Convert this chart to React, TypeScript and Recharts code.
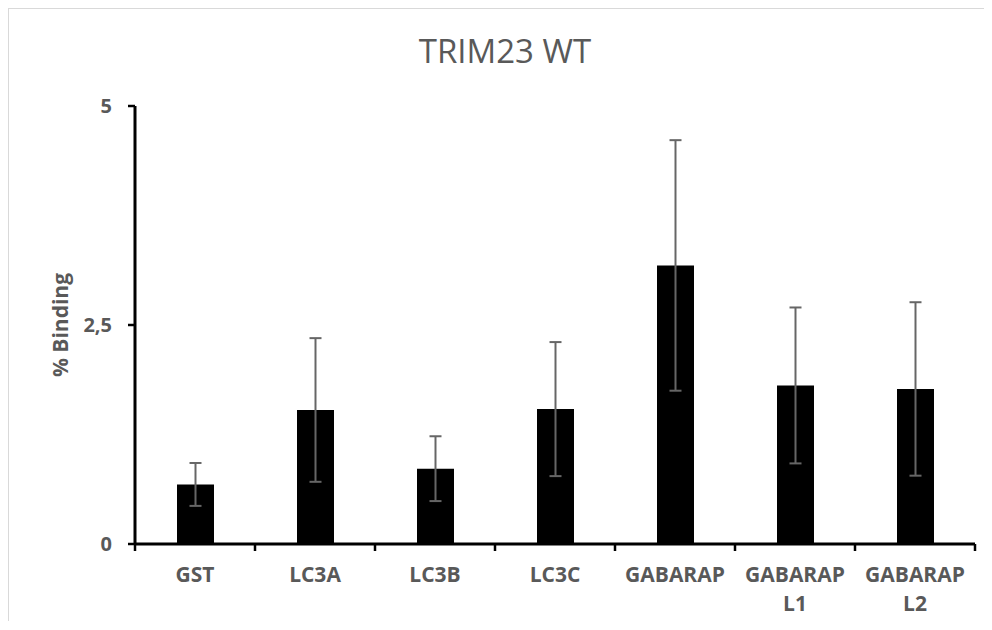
import React from 'react';
import { BarChart, Bar, XAxis, YAxis, ErrorBar, Label } from 'recharts';

const categories = ['GST', 'LC3A', 'LC3B', 'LC3C', 'GABARAP', 'GABARAP L1', 'GABARAP L2'];
const bindingValues = [0.68, 1.53, 0.86, 1.54, 3.18, 1.81, 1.77];
const bindingErrors = [0.245, 0.82, 0.37, 0.765, 1.43, 0.89, 0.99];
const yTicks = [0, 2.5, 5];
const titleText = 'TRIM23 WT';
const yLabelText = '% Binding';

const data = categories.map((name, i) => ({ name, value: bindingValues[i], err: bindingErrors[i] }));

const FONT = '"Open Sans", "Noto Sans", sans-serif';
const TEXT_COLOR = '#595959';

const XTick = (props: any) => {
  const { x, y, payload, index, visibleTicksCount, width } = props;
  const half = payload && typeof payload.offset === 'number' && payload.offset > 0
    ? payload.offset
    : width / visibleTicksCount / 2;
  const lines = String(payload.value).split(' ');
  return (
    <g>
      <line x1={x - half} y1={y} x2={x - half} y2={y + 7} stroke="#000" strokeWidth={2.5} />
      {index === visibleTicksCount - 1 && (
        <line x1={x + half} y1={y} x2={x + half} y2={y + 7} stroke="#000" strokeWidth={2.5} />
      )}
      <text
        x={x}
        y={y + 38}
        textAnchor="middle"
        fill={TEXT_COLOR}
        fontFamily={FONT}
        fontWeight={700}
        fontSize={21}
      >
        {lines.map((l, i) => (
          <tspan key={i} x={x} dy={i === 0 ? 0 : 29}>
            {l}
          </tspan>
        ))}
      </text>
    </g>
  );
};

const YLabel = (props: any) => {
  const vb = props.viewBox || { x: 0, y: 0, width: 0, height: 0 };
  const cx = vb.x + vb.width / 2 - 12;
  const cy = vb.y + vb.height / 2;
  return (
    <text
      x={cx}
      y={cy}
      transform={`rotate(-90, ${cx}, ${cy})`}
      textAnchor="middle"
      dominantBaseline="central"
      fill={TEXT_COLOR}
      fontFamily={FONT}
      fontWeight={700}
      fontSize={21}
    >
      {yLabelText}
    </text>
  );
};

export default function App() {
  return (
    <div
      style={{
        position: 'relative',
        width: 983,
        height: 612,
        borderLeft: '1px solid #d9d9d9',
        borderTop: '1px solid #d9d9d9',
        background: '#fff',
        overflow: 'hidden',
      }}
    >
      <div
        style={{
          position: 'absolute',
          left: 496 - 300,
          width: 600,
          top: 26,
          textAlign: 'center',
          fontFamily: FONT,
          fontSize: 33,
          lineHeight: '32px',
          color: TEXT_COLOR,
          fontWeight: 400,
          whiteSpace: 'nowrap',
        }}
      >
        {titleText}
      </div>
      <BarChart
        width={983}
        height={621}
        data={data}
        margin={{ top: 97, right: 17, bottom: 26, left: 0 }}
      >
        <XAxis
          dataKey="name"
          type="category"
          height={60}
          interval={0}
          axisLine={{ stroke: '#000', strokeWidth: 3 }}
          tickLine={false}
          tickSize={0}
          tickMargin={0}
          tick={<XTick />}
        />
        <YAxis
          type="number"
          domain={[0, 5]}
          ticks={yTicks}
          interval={0}
          width={126}
          axisLine={{ stroke: '#000', strokeWidth: 3 }}
          tickLine={{ stroke: '#000', strokeWidth: 2.5 }}
          tickSize={7}
          tickMargin={16}
          tickFormatter={(v: number) => String(v).replace('.', ',')}
          tick={{ fill: TEXT_COLOR, fontFamily: FONT, fontWeight: 700, fontSize: 20 }}
        >
          <Label content={<YLabel />} position="center" />
        </YAxis>
        <Bar dataKey="value" fill="#000" barSize={37} isAnimationActive={false}>
          <ErrorBar
            dataKey="err"
            direction="y"
            width={6}
            stroke="#666666"
            strokeWidth={2}
            isAnimationActive={false}
          />
        </Bar>
      </BarChart>
    </div>
  );
}
